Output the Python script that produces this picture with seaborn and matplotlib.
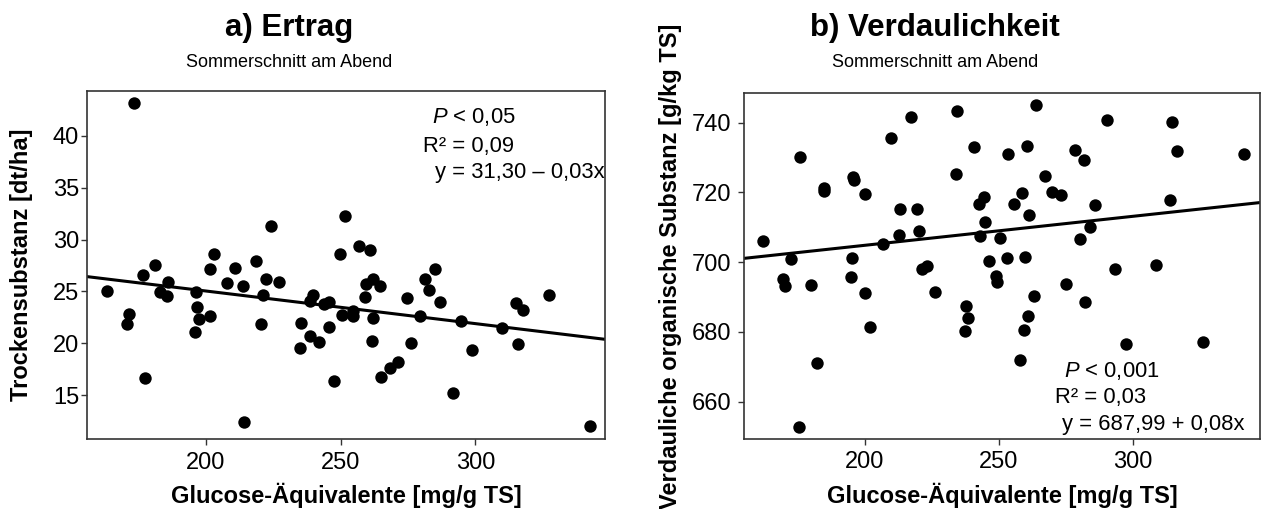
import numpy as np
import matplotlib
matplotlib.use("Agg")
import matplotlib.pyplot as plt
import seaborn as sns

# a) Ertrag: Glucose-Äquivalente vs. Trockensubstanz
ertrag_x = [173.4, 163.1, 171.4, 170.6, 177.2, 176.6, 181.1, 185.8, 182.9, 185.6,
            196.3, 196.6, 197.3, 195.8, 201.3, 201.4, 202.9, 207.8, 210.9, 213.7,
            214.0, 218.5, 224.0, 222.2, 221.2, 220.5, 227.2, 235.4, 235.0, 238.7,
            241.8, 239.8, 238.6, 243.8, 245.6, 245.8, 247.5, 251.5, 249.9, 250.5,
            254.4, 254.7, 256.7, 260.9, 262.1, 259.3, 264.4, 259.1, 262.1, 261.5,
            274.5, 281.3, 285.1, 282.6, 286.9, 279.3, 275.9, 271.2, 268.3, 265.0,
            291.7, 294.7, 298.8, 309.8, 315.1, 317.5, 315.8, 327.2, 342.5]
ertrag_y = [43.1, 25.0, 22.8, 21.9, 16.7, 26.6, 27.5, 25.9, 24.9, 24.6,
            24.9, 23.5, 22.3, 21.1, 22.6, 27.2, 28.6, 25.8, 27.3, 25.5,
            12.4, 27.9, 31.3, 26.2, 24.7, 21.9, 25.9, 22.0, 19.6, 20.7,
            20.1, 24.7, 24.1, 23.8, 24.0, 21.6, 16.4, 32.3, 28.6, 22.7,
            23.1, 22.6, 29.4, 29.0, 26.2, 25.7, 25.5, 24.5, 22.4, 20.2,
            24.4, 26.2, 27.2, 25.1, 24.0, 22.6, 20.0, 18.2, 17.6, 16.8,
            15.2, 22.2, 19.4, 21.5, 23.9, 23.2, 19.9, 24.7, 12.0]

# b) Verdaulichkeit: Glucose-Äquivalente vs. verdauliche organische Substanz
verd_x = [162.1, 172.4, 169.6, 170.4, 180.0, 176.0, 182.1, 175.6, 184.7, 184.8,
          195.5, 196.1, 200.1, 195.4, 194.8, 200.1, 202.0, 209.8, 217.3, 213.2,
          219.5, 212.8, 206.7, 220.4, 221.3, 223.1, 226.3, 234.4, 234.1, 240.8,
          244.4, 242.7, 244.8, 242.8, 250.4, 246.3, 248.9, 249.4, 237.8, 238.5,
          237.5, 253.4, 253.0, 263.7, 260.4, 267.0, 258.6, 255.7, 261.2, 269.8,
          273.2, 278.4, 281.6, 290.3, 285.9, 283.8, 280.1, 259.6, 275.1, 263.2,
          281.9, 261.0, 259.2, 258.0, 293.4, 308.6, 313.9, 314.6, 316.4, 341.3,
          297.5, 326.0]
verd_y = [706.1, 700.9, 695.1, 693.1, 693.6, 730.1, 671.1, 652.8, 721.3, 720.4,
          724.5, 723.6, 719.6, 701.1, 695.8, 691.3, 681.5, 735.7, 741.6, 715.3,
          715.3, 707.7, 705.3, 708.9, 698.0, 698.9, 691.5, 743.4, 725.3, 733.1,
          718.8, 716.7, 711.6, 707.6, 706.9, 700.4, 696.0, 694.3, 687.4, 683.9,
          680.4, 730.9, 701.1, 745.1, 733.4, 724.8, 719.9, 716.7, 713.4, 720.0,
          719.3, 732.1, 729.2, 740.8, 716.4, 710.2, 706.7, 701.6, 693.7, 690.3,
          688.7, 684.7, 680.6, 672.0, 698.0, 699.2, 717.8, 740.1, 731.8, 731.1,
          676.5, 677.2]

# regression lines (intercept, slope)
ertrag_fit = (31.32, -0.0314)
verd_fit = (688.2, 0.0832)

titles = ["a) Ertrag", "b) Verdaulichkeit"]
subtitle = "Sommerschnitt am Abend"
ylabels = ["Trockensubstanz [dt/ha]", "Verdauliche organische Substanz [g/kg TS]"]
xlabel = "Glucose-Äquivalente [mg/g TS]"
stats_a = [r"$\mathit{P}$ < 0,05", "R² = 0,09", "y = 31,30 – 0,03x"]
stats_b = [r"$\mathit{P}$ < 0,001", "R² = 0,03", "y = 687,99 + 0,08x"]

sns.set_style("ticks")
plt.rcParams["font.family"] = ["Liberation Sans", "DejaVu Sans"]
plt.rcParams["mathtext.fontset"] = "custom"
plt.rcParams["mathtext.rm"] = "Liberation Sans"
plt.rcParams["mathtext.it"] = "Liberation Sans:italic"
plt.rcParams["text.color"] = "black"
plt.rcParams["axes.labelcolor"] = "black"
plt.rcParams["xtick.color"] = "black"
plt.rcParams["ytick.color"] = "black"

fig = plt.figure(figsize=(12.61, 5.09), dpi=100)
ax1 = fig.add_axes([0.0692, 0.1369, 0.4106, 0.6843])
ax2 = fig.add_axes([0.5900, 0.1375, 0.4092, 0.6804])

panels = [
    (ax1, ertrag_x, ertrag_y, ertrag_fit, (155.9, 348.1), (10.76, 44.3), [15, 20, 25, 30, 35, 40], 1.5),
    (ax2, verd_x, verd_y, verd_fit, (155.0, 347.3), (649.3, 748.6), [660, 680, 700, 720, 740], 5.0),
]

for ax, xs, ys, fit, xl, yl, yt, ypad in panels:
    sns.scatterplot(x=xs, y=ys, ax=ax, color="black", s=80, linewidth=0, zorder=3)
    ax.set_xlim(xl)
    ax.set_ylim(yl)
    lx = np.array(ax.get_xlim())
    ax.plot(lx, fit[0] + fit[1] * lx, color="black", lw=2.2, zorder=2)
    ax.set_xticks([200, 250, 300])
    ax.set_yticks(yt)
    ax.tick_params(labelsize=17, length=4.3, width=1, color="#333333")
    ax.tick_params(axis="x", pad=4.5)
    ax.tick_params(axis="y", pad=ypad)
    for sp in ax.spines.values():
        sp.set_visible(True)
        sp.set_color("#333333")
        sp.set_linewidth(1.2)
    ax.set_xlabel(xlabel, fontsize=17, fontweight="bold")

ax1.set_ylabel(ylabels[0], fontsize=17, fontweight="bold")
ax2.set_ylabel(ylabels[1], fontsize=17, fontweight="bold")
ax1.yaxis.set_label_coords(-0.104, 0.5)
ax2.yaxis.set_label_coords(-0.120, 0.5)
ax1.xaxis.set_label_coords(0.5, -0.1246)
ax2.xaxis.set_label_coords(0.5, -0.126)

# stats annotations
pos_a = [(0.665, 0.908), (0.648, 0.824), (0.672, 0.750)]
pos_b = [(0.620, 0.180), (0.603, 0.103), (0.616, 0.026)]
for ax, lines, pos in [(ax1, stats_a, pos_a), (ax2, stats_b, pos_b)]:
    for txt, (px, py) in zip(lines, pos):
        ax.text(px, py, txt, transform=ax.transAxes, fontsize=15.8,
                ha="left", va="baseline", zorder=4)

# titles
for cx, t in zip([0.229, 0.7415], titles):
    fig.text(cx, 0.929, t, ha="center", va="baseline", fontsize=22.5, fontweight="bold")
    fig.text(cx, 0.868, subtitle, ha="center", va="baseline", fontsize=13)

fig.savefig("out.png", dpi=100, facecolor="white")
